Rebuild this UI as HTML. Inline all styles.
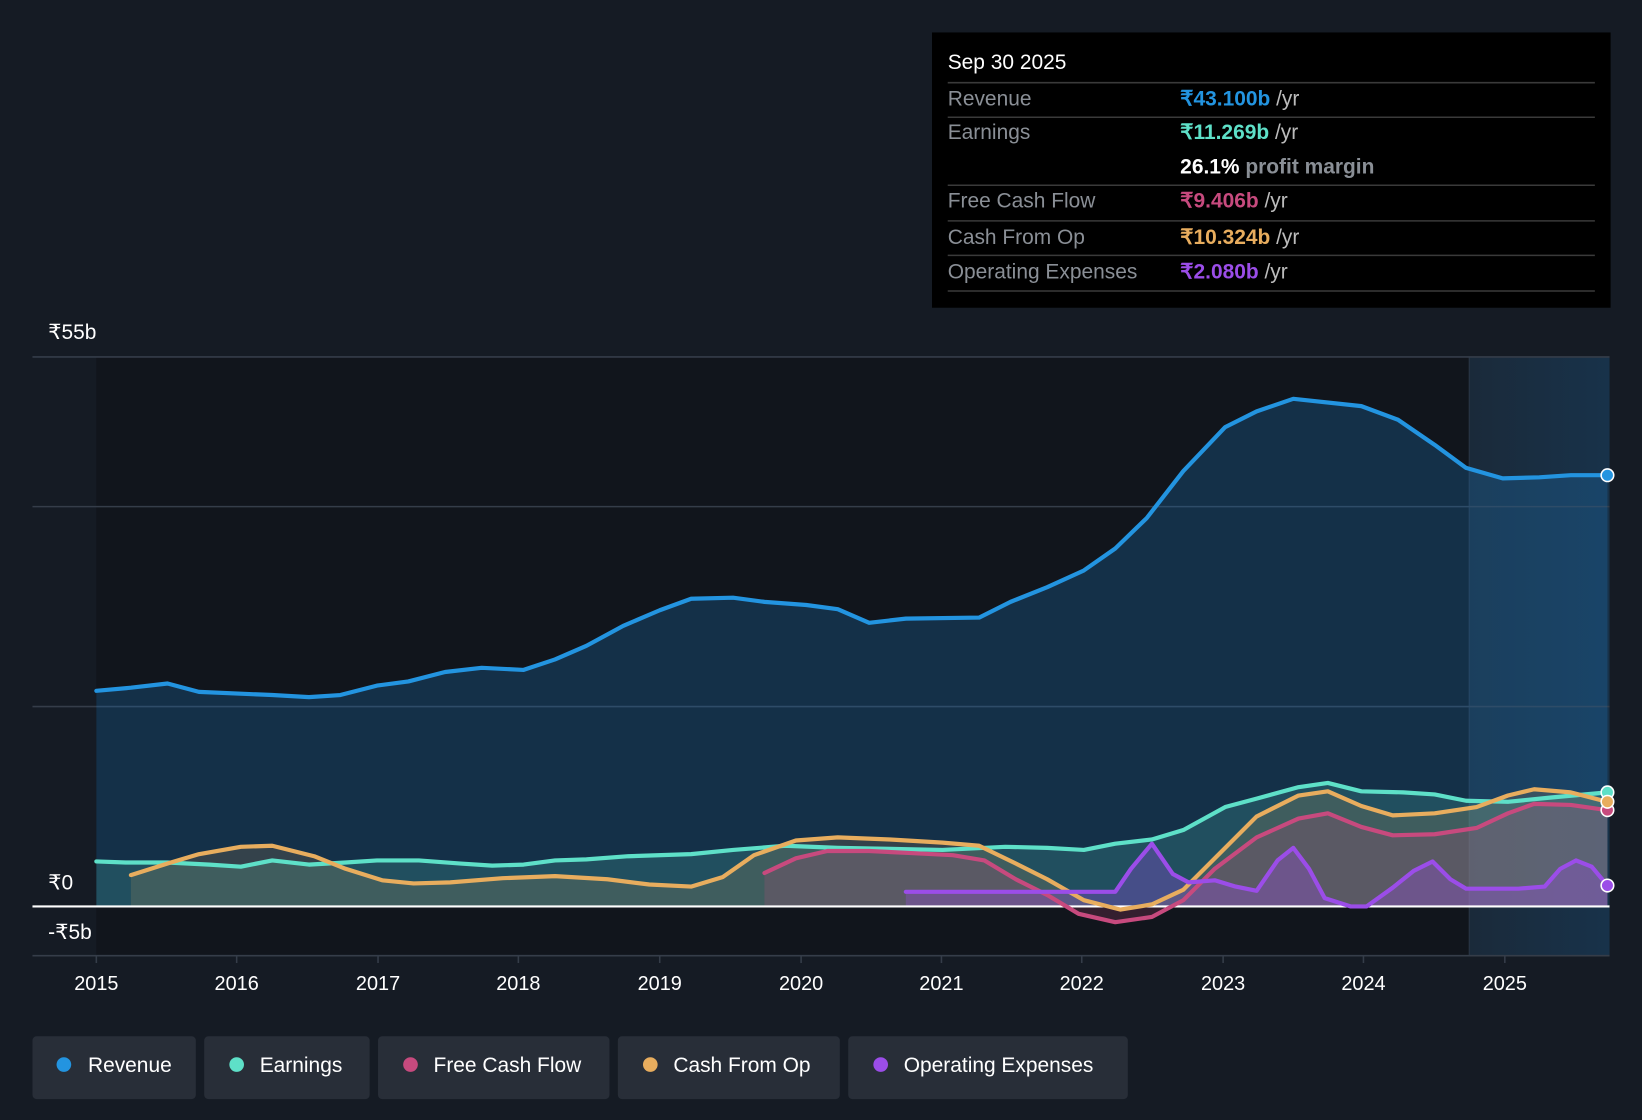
<!DOCTYPE html>
<html><head><meta charset="utf-8"><style>
html,body{margin:0;padding:0;background:#151b24;}
svg{display:block;font-family:"Liberation Sans",sans-serif;}
</style></head><body>
<svg width="1642" height="1120" viewBox="0 0 1568 1070" preserveAspectRatio="none" xmlns="http://www.w3.org/2000/svg">
<defs>
<linearGradient id="fut" x1="0" x2="1" y1="0" y2="0"><stop offset="0" stop-color="#1a2a3a"/><stop offset="1" stop-color="#18324a"/></linearGradient>
</defs>
<rect width="1568" height="1070" fill="#151b24"/>
<rect x="92" y="341" width="1311" height="572" fill="#11151c"/>
<rect x="1403" y="341" width="134" height="572" fill="url(#fut)"/>
<line x1="1403" y1="341" x2="1403" y2="913" stroke="#2a3646" stroke-width="1"/>
<g stroke="#353d49" stroke-width="1.5">
<line x1="31" y1="341" x2="1537" y2="341"/>
<line x1="31" y1="484" x2="1537" y2="484"/>
<line x1="31" y1="675" x2="1537" y2="675"/>
<line x1="31" y1="913" x2="1537" y2="913"/>
</g>
<g fill="#fff" font-size="20">
<text x="46" y="324">₹55b</text>
<text x="46" y="850">₹0</text>
<text x="46" y="897">-₹5b</text>
</g>
<g fill="#fff" font-size="19" text-anchor="middle">
<text x="92" y="946">2015</text><text x="226" y="946">2016</text><text x="361" y="946">2017</text><text x="495" y="946">2018</text><text x="630" y="946">2019</text><text x="765" y="946">2020</text><text x="899" y="946">2021</text><text x="1033" y="946">2022</text><text x="1168" y="946">2023</text><text x="1302" y="946">2024</text><text x="1437" y="946">2025</text>
</g>
<g stroke="#353d49" stroke-width="1.5">
<line x1="92" y1="913" x2="92" y2="920"/><line x1="226" y1="913" x2="226" y2="920"/><line x1="361" y1="913" x2="361" y2="920"/><line x1="495" y1="913" x2="495" y2="920"/><line x1="630" y1="913" x2="630" y2="920"/><line x1="765" y1="913" x2="765" y2="920"/><line x1="899" y1="913" x2="899" y2="920"/><line x1="1033" y1="913" x2="1033" y2="920"/><line x1="1168" y1="913" x2="1168" y2="920"/><line x1="1302" y1="913" x2="1302" y2="920"/><line x1="1437" y1="913" x2="1437" y2="920"/>
</g>
<!-- areas -->
<polygon fill="#1d6fb0" fill-opacity="0.3" points="92,866 92,660 125,657 160,653 190,661 260,664 295,666 325,664 360,655 390,651 425,642 460,638 500,640 530,630 560,617 595,598 630,583 660,572 700,571 730,575 770,578 800,582 830,595 865,591 935,590 965,575 1000,561 1035,545 1065,524 1095,495 1130,450 1170,408 1200,393 1235,381 1300,388 1335,401 1370,425 1400,447 1435,457 1470,456 1500,454 1535,454 1535,866"/>
<polygon fill="#5ee0c8" fill-opacity="0.18" points="92,866 92,823 120,824 160,824 200,826 230,828 260,822 295,826 330,824 360,822 400,822 440,825 470,827 500,826 530,822 560,821 600,818 660,816 700,812 750,808 800,810 850,811 900,812 960,809 1000,810 1035,812 1065,806 1100,802 1130,793 1170,771 1200,763 1240,752 1268,748 1300,756 1340,757 1370,759 1400,765 1440,766 1480,762 1535,757 1535,866"/>
<polygon fill="#e8ad5e" fill-opacity="0.15" points="125,866 125,836 160,825 190,816 230,809 260,808 300,818 330,830 365,841 395,844 430,843 480,839 530,837 580,840 620,845 660,847 690,838 720,817 760,803 800,800 850,802 900,805 935,808 970,825 1000,840 1035,860 1070,869 1100,864 1130,850 1165,815 1200,780 1240,760 1268,756 1300,770 1330,779 1370,777 1410,771 1440,760 1465,754 1500,757 1535,766 1535,866"/>
<polygon fill="#c74a7e" fill-opacity="0.2" points="730,866 730,834 760,820 790,813 830,813 870,815 910,817 940,822 970,840 1000,855 1030,873 1065,881 1100,876 1130,860 1160,830 1200,800 1240,782 1268,777 1300,790 1330,798 1370,797 1410,791 1440,777 1465,768 1500,769 1535,774 1535,866"/>
<polygon fill="#9b4de8" fill-opacity="0.3" points="865,866 865,852 1065,852 1080,830 1100,806 1120,835 1135,843 1160,841 1180,847 1200,851 1220,822 1235,810 1250,830 1265,858 1290,866 1305,866 1330,848 1350,832 1368,823 1385,840 1400,849 1450,849 1475,847 1490,830 1505,822 1520,828 1535,846 1535,866"/>
<line x1="31" y1="866" x2="1537" y2="866" stroke="#fff" stroke-width="2"/>
<g fill="none" stroke-width="4" stroke-linejoin="round" stroke-linecap="round">
<polyline stroke="#5ee0c8" points="92,823 120,824 160,824 200,826 230,828 260,822 295,826 330,824 360,822 400,822 440,825 470,827 500,826 530,822 560,821 600,818 660,816 700,812 750,808 800,810 850,811 900,812 960,809 1000,810 1035,812 1065,806 1100,802 1130,793 1170,771 1200,763 1240,752 1268,748 1300,756 1340,757 1370,759 1400,765 1440,766 1480,762 1535,757"/>
<polyline stroke="#c74a7e" points="730,834 760,820 790,813 830,813 870,815 910,817 940,822 970,840 1000,855 1030,873 1065,881 1100,876 1130,860 1160,830 1200,800 1240,782 1268,777 1300,790 1330,798 1370,797 1410,791 1440,777 1465,768 1500,769 1535,774"/>
<polyline stroke="#e8ad5e" points="125,836 160,825 190,816 230,809 260,808 300,818 330,830 365,841 395,844 430,843 480,839 530,837 580,840 620,845 660,847 690,838 720,817 760,803 800,800 850,802 900,805 935,808 970,825 1000,840 1035,860 1070,869 1100,864 1130,850 1165,815 1200,780 1240,760 1268,756 1300,770 1330,779 1370,777 1410,771 1440,760 1465,754 1500,757 1535,766"/>
<polyline stroke="#9b4de8" points="865,852 1065,852 1080,830 1100,806 1120,835 1135,843 1160,841 1180,847 1200,851 1220,822 1235,810 1250,830 1265,858 1290,866 1305,866 1330,848 1350,832 1368,823 1385,840 1400,849 1450,849 1475,847 1490,830 1505,822 1520,828 1535,846"/>
<polyline stroke="#2394e0" points="92,660 125,657 160,653 190,661 260,664 295,666 325,664 360,655 390,651 425,642 460,638 500,640 530,630 560,617 595,598 630,583 660,572 700,571 730,575 770,578 800,582 830,595 865,591 935,590 965,575 1000,561 1035,545 1065,524 1095,495 1130,450 1170,408 1200,393 1235,381 1300,388 1335,401 1370,425 1400,447 1435,457 1470,456 1500,454 1535,454"/>
</g>
<g stroke="#fff" stroke-width="1.5">
<circle cx="1535" cy="454" r="6" fill="#2394e0"/>
<circle cx="1535" cy="757" r="6" fill="#5ee0c8"/>
<circle cx="1535" cy="774" r="6" fill="#c74a7e"/>
<circle cx="1535" cy="766" r="6" fill="#e8ad5e"/>
<circle cx="1535" cy="846" r="6" fill="#9b4de8"/>
</g>
<!-- tooltip -->
<rect x="890" y="31" width="648" height="263" fill="#000"/>
<text x="905" y="66" fill="#fff" font-size="20">Sep 30 2025</text>
<g stroke="#3a3a3a" stroke-width="1.5">
<line x1="905" y1="79" x2="1523" y2="79"/><line x1="905" y1="112" x2="1523" y2="112"/><line x1="905" y1="177" x2="1523" y2="177"/><line x1="905" y1="211" x2="1523" y2="211"/><line x1="905" y1="244" x2="1523" y2="244"/><line x1="905" y1="278" x2="1523" y2="278"/>
</g>
<g font-size="20" fill="#8a8f96">
<text x="905" y="101">Revenue</text>
<text x="905" y="133">Earnings</text>
<text x="905" y="198">Free Cash Flow</text>
<text x="905" y="233">Cash From Op</text>
<text x="905" y="266">Operating Expenses</text>
</g>
<g font-size="20" font-weight="bold">
<text x="1127" y="101"><tspan fill="#2394e0">₹43.100b</tspan><tspan fill="#bbb" font-weight="normal"> /yr</tspan></text>
<text x="1127" y="133"><tspan fill="#5ee0c8">₹11.269b</tspan><tspan fill="#bbb" font-weight="normal"> /yr</tspan></text>
<text x="1127" y="166"><tspan fill="#fff">26.1%</tspan><tspan fill="#8a8f96"> profit margin</tspan></text>
<text x="1127" y="198"><tspan fill="#c74a7e">₹9.406b</tspan><tspan fill="#bbb" font-weight="normal"> /yr</tspan></text>
<text x="1127" y="233"><tspan fill="#e8ad5e">₹10.324b</tspan><tspan fill="#bbb" font-weight="normal"> /yr</tspan></text>
<text x="1127" y="266"><tspan fill="#9b4de8">₹2.080b</tspan><tspan fill="#bbb" font-weight="normal"> /yr</tspan></text>
</g>
<!-- legend -->
<g font-size="20" fill="#fff">
<rect x="31" y="990" width="156" height="60" rx="4" fill="#282e38"/><circle cx="61" cy="1017" r="7" fill="#2394e0"/><text x="84" y="1024">Revenue</text>
<rect x="195" y="990" width="158" height="60" rx="4" fill="#282e38"/><circle cx="226" cy="1017" r="7" fill="#5ee0c8"/><text x="248" y="1024">Earnings</text>
<rect x="361" y="990" width="221" height="60" rx="4" fill="#282e38"/><circle cx="392" cy="1017" r="7" fill="#c74a7e"/><text x="414" y="1024">Free Cash Flow</text>
<rect x="590" y="990" width="212" height="60" rx="4" fill="#282e38"/><circle cx="621" cy="1017" r="7" fill="#e8ad5e"/><text x="643" y="1024">Cash From Op</text>
<rect x="810" y="990" width="267" height="60" rx="4" fill="#282e38"/><circle cx="841" cy="1017" r="7" fill="#9b4de8"/><text x="863" y="1024">Operating Expenses</text>
</g>
</svg>
</body></html>
